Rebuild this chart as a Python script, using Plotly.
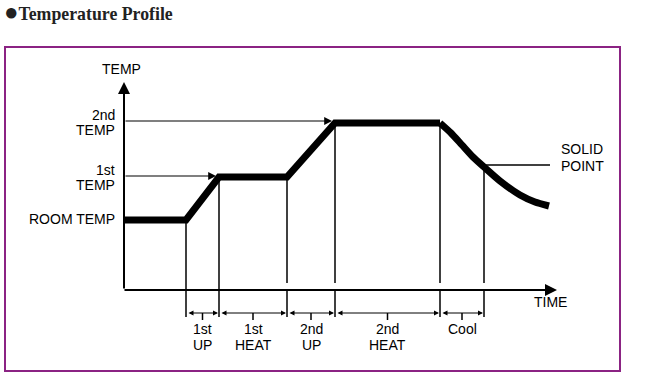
import plotly.graph_objects as go

# ---- diagram data (time units from the TEMP axis, temperature units above the TIME axis) ----
phase_times = [0, 62, 95, 163, 211, 316]          # start room, end room, end 1st up, end 1st heat, end 2nd up, end 2nd heat
room_temp = 70
first_temp = 113
second_temp = 167
profile_temps = [room_temp, room_temp, first_temp, first_temp, second_temp, second_temp]

cool_times = [316, 327, 338, 349, 360, 376, 396, 411, 425]
cool_temps = [167, 157, 145, 133, 123, 109, 95, 88, 84]

solid_time = 360
solid_temp = 125
solid_label_end = 426

phase_bounds = [62, 95, 163, 211, 316, 360]
phase_tops = [70, 113, 113, 167, 167, 123]
phase_gap = [False, False, True, True, True, True]
phase_labels = [["1st", "UP"], ["1st", "HEAT"], ["2nd", "UP"], ["2nd", "HEAT"], ["Cool"]]

temp_labels = [["2nd", "TEMP"], ["1st", "TEMP"], ["ROOM TEMP"]]
temp_label_levels = [[175, 160], [120, 105], [71]]
arrow_levels = [169, 114]
arrow_ends = [208, 92]

time_axis_end = 433
temp_axis_end = 208

FONT = "Liberation Sans, Arial, sans-serif"
FS = 14
fig = go.Figure()

# thick profile line
fig.add_trace(go.Scatter(x=phase_times, y=profile_temps, mode="lines",
                         line=dict(color="black", width=7), hoverinfo="skip", showlegend=False))
fig.add_trace(go.Scatter(x=cool_times, y=cool_temps, mode="lines",
                         line=dict(color="black", width=7, shape="spline", smoothing=0.6),
                         hoverinfo="skip", showlegend=False))

# vertical phase boundaries
vx, vy = [], []
for t, top, gap in zip(phase_bounds, phase_tops, phase_gap):
    if gap:
        vx += [t, t, None, t, t, None]
        vy += [top, 7, None, 0, -27, None]
    else:
        vx += [t, t, None]
        vy += [top, -27, None]
fig.add_trace(go.Scatter(x=vx, y=vy, mode="lines", line=dict(color="black", width=1.5),
                         hoverinfo="skip", showlegend=False))

# solid point line
fig.add_trace(go.Scatter(x=[solid_time, solid_label_end], y=[solid_temp, solid_temp], mode="lines",
                         line=dict(color="black", width=1.5), hoverinfo="skip", showlegend=False))

# small ticks below dimension arrows
tx, ty = [], []
for a, b in zip(phase_bounds[:-1], phase_bounds[1:]):
    m = (a + b) / 2
    tx += [m, m, None]
    ty += [-23, -30, None]
fig.add_trace(go.Scatter(x=tx, y=ty, mode="lines", line=dict(color="black", width=1.5),
                         hoverinfo="skip", showlegend=False))

ann = []
# axes
ann.append(dict(x=0, y=temp_axis_end, ax=0, ay=0, xref="x", yref="y", axref="x", ayref="y",
                showarrow=True, arrowhead=2, arrowsize=1.2, arrowwidth=2, arrowcolor="black", text=""))
ann.append(dict(x=time_axis_end, y=0, ax=-1, ay=0, xref="x", yref="y", axref="x", ayref="y",
                showarrow=True, arrowhead=2, arrowsize=1.2, arrowwidth=2, arrowcolor="black", text=""))
# temperature level arrows
for lvl, end in zip(arrow_levels, arrow_ends):
    ann.append(dict(x=end, y=lvl, ax=0, ay=lvl, xref="x", yref="y", axref="x", ayref="y",
                    showarrow=True, arrowhead=2, arrowsize=1.3, arrowwidth=1.2, arrowcolor="black", text=""))
# dimension arrows
for a, b in zip(phase_bounds[:-1], phase_bounds[1:]):
    ann.append(dict(x=b - 1, y=-23, ax=a + 1, ay=-23, xref="x", yref="y", axref="x", ayref="y",
                    showarrow=True, arrowhead=2, startarrowhead=2, arrowside="end+start",
                    arrowsize=1.0, startarrowsize=1.0, arrowwidth=1.0, arrowcolor="black", text=""))
# phase labels
for a, b, lines in zip(phase_bounds[:-1], phase_bounds[1:], phase_labels):
    for lab, y in zip(lines, [-39, -55]):
        ann.append(dict(x=(a + b) / 2, y=y, xref="x", yref="y", text=lab, showarrow=False,
                        font=dict(family=FONT, size=FS, color="black"), xanchor="center", yanchor="middle"))
# temperature labels
for lines, lvls in zip(temp_labels, temp_label_levels):
    for lab, lvl in zip(lines, lvls):
        ann.append(dict(x=-7, y=lvl, xref="x", yref="y", text=lab, showarrow=False,
                        font=dict(family=FONT, size=FS, color="black"), xanchor="right", yanchor="middle"))
ann.append(dict(x=-3, y=221, xref="x", yref="y", text="TEMP", showarrow=False,
                font=dict(family=FONT, size=FS, color="black"), xanchor="center", yanchor="middle"))
ann.append(dict(x=426, y=-12, xref="x", yref="y", text="TIME", showarrow=False,
                font=dict(family=FONT, size=FS, color="black"), xanchor="center", yanchor="middle"))
for lab, y in zip(["SOLID", "POINT"], [141, 124]):
    ann.append(dict(x=435, y=y, xref="x", yref="y", text=lab, showarrow=False,
                    font=dict(family=FONT, size=FS, color="black"), xanchor="left", yanchor="middle"))
# title
ann.append(dict(x=-122, y=278, xref="x", yref="y",
                text="<span style='font-size:24px'>●</span><b>Temperature Profile</b>", showarrow=False,
                font=dict(family="Liberation Serif, Times New Roman, serif", size=17.8, color="#222222"),
                xanchor="left", yanchor="middle"))

fig.update_layout(
    width=650, height=376, margin=dict(l=0, r=0, t=0, b=0),
    paper_bgcolor="white", plot_bgcolor="white",
    xaxis=dict(range=[-124, 526], visible=False, fixedrange=True),
    yaxis=dict(range=[-86, 290], visible=False, fixedrange=True),
    annotations=ann,
    shapes=[dict(type="rect", xref="x", yref="y", x0=-119, x1=496, y0=243, y1=-81,
                 line=dict(color="#8B2383", width=2), fillcolor="rgba(0,0,0,0)", layer="below")],
    showlegend=False,
)

fig.write_html("out.html", config={"displayModeBar": False},
               post_script="document.body.style.margin='0';document.body.style.overflow='hidden';")
